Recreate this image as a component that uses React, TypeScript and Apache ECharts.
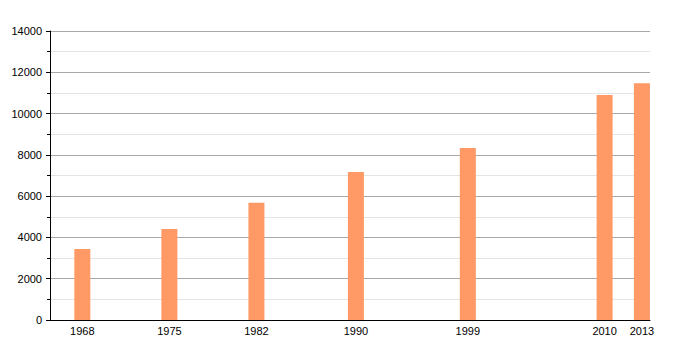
import React, { useEffect, useRef } from "react";
import * as echarts from "echarts";

const years = [1968, 1975, 1982, 1990, 1999, 2010, 2013];
const population = [3440, 4410, 5680, 7170, 8330, 10900, 11470];
const yTicks = [0, 2000, 4000, 6000, 8000, 10000, 12000, 14000];

export default function App() {
  const ref = useRef<HTMLDivElement>(null);
  useEffect(() => {
    document.body.style.margin = "0";
    const chart = echarts.init(ref.current!, null, { renderer: "svg" });
    chart.setOption({
      animation: false,
      backgroundColor: "#ffffff",
      textStyle: { fontFamily: "Liberation Sans, Arial, sans-serif" },
      grid: { left: 50, right: 50, top: 31, bottom: 30, containLabel: false },
      xAxis: {
        type: "value",
        min: 1965.4,
        max: 2013.65,
        axisLine: { show: true, lineStyle: { color: "#000", width: 1 } },
        axisTick: { show: false },
        splitLine: { show: false },
        axisLabel: {
          customValues: years,
          formatter: (v: number) => String(v),
          color: "#000",
          fontSize: 11,
          margin: 5,
        },
      },
      yAxis: {
        type: "value",
        min: yTicks[0],
        max: yTicks[yTicks.length - 1],
        interval: 2000,
        axisLine: { show: true, lineStyle: { color: "#000", width: 1 } },
        axisTick: { show: true, length: 4, lineStyle: { color: "#000" } },
        minorTick: { show: true, splitNumber: 2, length: 3, lineStyle: { color: "#000" } },
        splitLine: { show: true, lineStyle: { color: "#a8a8a8", width: 1 } },
        minorSplitLine: { show: true, lineStyle: { color: "#e4e4e4", width: 1 } },
        axisLabel: {
          color: "#000",
          fontSize: 11,
          margin: 8,
          formatter: (v: number) => String(v),
        },
      },
      series: [
        {
          type: "bar",
          barWidth: 16,
          itemStyle: { color: "#ff9966" },
          data: years.map((y, i) => [y, population[i]]),
        },
      ],
    });
    return () => chart.dispose();
  }, []);
  return <div ref={ref} style={{ width: 700, height: 350 }} />;
}
